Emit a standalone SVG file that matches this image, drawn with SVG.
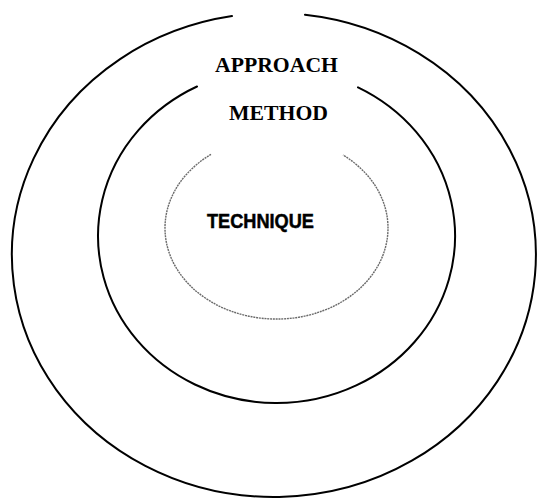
<svg xmlns="http://www.w3.org/2000/svg" width="537" height="500" viewBox="0 0 537 500">
<style>
.ring{fill:none;stroke:#000;stroke-width:2;stroke-linecap:round}
.inner{fill:none;stroke:#6a6a6a;stroke-width:1.4;stroke-dasharray:2 0.8}
.serif{font-family:"Liberation Serif","Times New Roman",serif;font-weight:bold;font-size:22px;fill:#000;text-anchor:middle}
.sans{font-family:"Liberation Sans",Arial,sans-serif;font-weight:bold;font-size:20px;fill:#000;stroke:#000;stroke-width:0.5;text-anchor:middle}
</style>
<rect width="537" height="500" fill="#fff"/>
<g id="approach">
<path class="ring" d="M 232 16.1 A 262 242 0 1 0 305 14.7"/>
<text class="serif" x="276.5" y="72" textLength="123" lengthAdjust="spacingAndGlyphs">APPROACH</text>
</g>
<g id="method">
<path class="ring" d="M 197 86.5 A 178.5 167 0 1 0 358 87.4"/>
<text class="serif" x="278.5" y="120" textLength="99" lengthAdjust="spacingAndGlyphs">METHOD</text>
</g>
<g id="technique">
<path class="inner" d="M 211 154.4 A 111.5 91 0 1 0 343 155"/>
<text class="sans" x="260.5" y="227.5" textLength="107" lengthAdjust="spacingAndGlyphs">TECHNIQUE</text>
</g>
<g id="connectors"/>
</svg>
